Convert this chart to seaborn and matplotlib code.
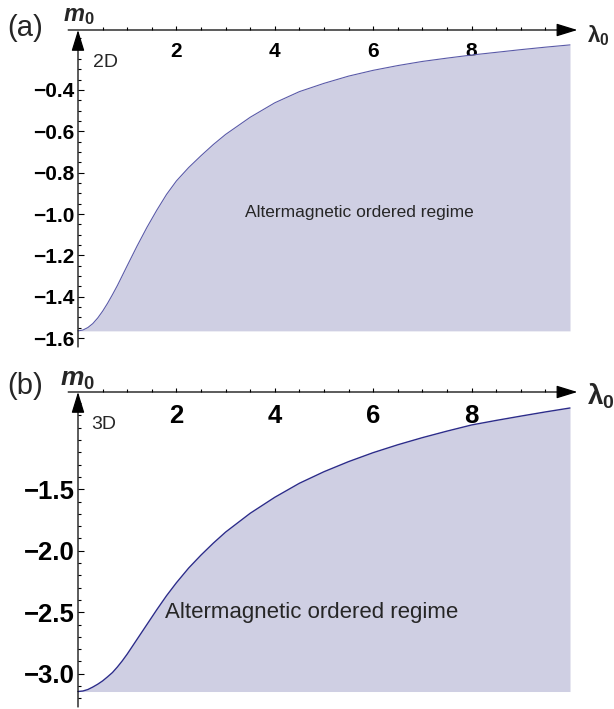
import numpy as np
import pandas as pd
import matplotlib
matplotlib.use("Agg")
import matplotlib.pyplot as plt
import seaborn as sns
from matplotlib.ticker import FixedLocator, FuncFormatter

# ---------------- data ----------------
lam_2d = [0, 0.1, 0.2, 0.3, 0.4, 0.5, 0.6, 0.7, 0.8, 0.9, 1.0, 1.2, 1.4, 1.6, 1.8, 2.0,
          2.25, 2.5, 2.75, 3.0, 3.5, 4.0, 4.5, 5.0, 5.5, 6.0, 6.5, 7.0, 7.5, 8.0, 8.5, 9.0, 9.5, 10.0]
m_2d = [-1.565, -1.561, -1.549, -1.530, -1.503, -1.470, -1.432, -1.390, -1.346, -1.298, -1.250,
        -1.155, -1.065, -0.982, -0.905, -0.840, -0.775, -0.718, -0.664, -0.615, -0.532, -0.462,
        -0.408, -0.368, -0.333, -0.305, -0.282, -0.262, -0.246, -0.231, -0.218, -0.205, -0.193, -0.182]

lam_3d = [0, 0.1, 0.2, 0.3, 0.4, 0.5, 0.6, 0.7, 0.8, 0.9, 1.0, 1.2, 1.4, 1.6, 1.8, 2.0,
          2.25, 2.5, 2.75, 3.0, 3.5, 4.0, 4.5, 5.0, 5.5, 6.0, 6.5, 7.0, 7.5, 8.0, 8.5, 9.0, 9.5, 10.0]
m_3d = [-3.144, -3.140, -3.128, -3.108, -3.085, -3.058, -3.025, -2.990, -2.945, -2.895, -2.840,
        -2.720, -2.600, -2.480, -2.365, -2.260, -2.140, -2.035, -1.938, -1.848, -1.695, -1.565,
        -1.451, -1.357, -1.275, -1.202, -1.138, -1.080, -1.027, -0.977, -0.940, -0.905, -0.871, -0.839]

base_2d = -1.565
base_3d = -3.144

xmajor = [2, 4, 6, 8]
xminor = [0.5, 1, 1.5, 2.5, 3, 3.5, 4.5, 5, 5.5, 6.5, 7, 7.5, 8.5, 9, 9.5]
ymajor_2d = [-1.6, -1.4, -1.2, -1.0, -0.8, -0.6, -0.4]
ymajor_3d = [-3.0, -2.5, -2.0, -1.5]

panel_labels = ["(a)", "(b)"]
dim_labels = ["2D", "3D"]
region_text = "Altermagnetic ordered regime"

# ---------------- style ----------------
sns.set_style("white")
plt.rcParams["font.family"] = ["Liberation Sans", "DejaVu Sans"]
plt.rcParams["mathtext.fontset"] = "custom"
plt.rcParams["mathtext.rm"] = "Liberation Sans"
plt.rcParams["mathtext.bf"] = "Liberation Sans:bold"
plt.rcParams["mathtext.it"] = "Liberation Sans:italic"
plt.rcParams["mathtext.bfit"] = "Liberation Sans:bold:italic"

W, H = 614, 709
fig = plt.figure(figsize=(W / 100, H / 100), dpi=100)

def fx(px):
    return px / W

def fy(py):
    return 1 - py / H

fill_color = "#cfcfe3"
tick_family = ["Liberation Sans", "DejaVu Sans"]

# axes geometry: x data 0 at px 78, 49.2 px per unit
x0_px, xs = 78.0, 49.2
xlim = (-0.2, 10.2)
left = fx(x0_px + xlim[0] * xs)
width = (xlim[1] - xlim[0]) * xs / W

panels = [
    dict(lam=lam_2d, m=m_2d, base=base_2d, top=30, bot=347, ylim=(-1.643, -0.110),
         ymaj=ymajor_2d, ymin=np.round(np.arange(-1.6, -0.149, 0.05), 3), fmt="{:.1f}",
         tick_fs=15, pad_x=-25.2, line="#5a5aa8", lw=0.8,
         dim_pos=(0.30, -0.267), dim_fs=14, reg_pos=(3.39, -0.993), reg_fs=12.5,
         lab_xy=(25, 28), lab_fs=21, m_xy=(79, 16), m_fs=17, l_xy=(587, 36), l_fs=16),
    dict(lam=lam_3d, m=m_3d, base=base_3d, top=392, bot=707, ylim=(-3.27, -0.709),
         ymaj=ymajor_3d, ymin=np.round(np.arange(-3.2, -0.79, 0.1), 3), fmt="{:.1f}",
         tick_fs=18.5, pad_x=-29.1, line="#2c2c8a", lw=1.0,
         dim_pos=(0.26, -0.977), dim_fs=14, reg_pos=(1.77, -2.504), reg_fs=16,
         lab_xy=(25, 386), lab_fs=21, m_xy=(78, 380), m_fs=19, l_xy=(587, 396), l_fs=20),
]

for i, p in enumerate(panels):
    bottom = fy(p["bot"])
    height = (p["bot"] - p["top"]) / H
    ax = fig.add_axes([left, bottom, width, height])
    ax.set_xlim(*xlim)
    ax.set_ylim(*p["ylim"])
    ax.patch.set_alpha(0)

    df = pd.DataFrame({"lam": p["lam"], "m": p["m"]})
    ax.fill_between(df["lam"], df["m"], p["base"], color=fill_color, lw=0, zorder=1)
    sns.lineplot(data=df, x="lam", y="m", ax=ax, color=p["line"], lw=p["lw"], zorder=2)
    ax.set_xlabel("")
    ax.set_ylabel("")

    for s in ["top", "bottom", "right", "left"]:
        ax.spines[s].set_visible(False)

    # x axis (at top)
    ax.xaxis.set_ticks_position("top")
    ax.xaxis.set_major_locator(FixedLocator(xmajor))
    ax.xaxis.set_minor_locator(FixedLocator(xminor))
    ax.xaxis.set_major_formatter(FuncFormatter(lambda v, _: f"{v:g}"))
    ax.tick_params(axis="x", which="both", direction="out", top=True, bottom=False,
                   labeltop=True, labelbottom=False, pad=p["pad_x"], width=0.8,
                   labelsize=p["tick_fs"], colors="black")
    ax.tick_params(axis="x", which="major", length=3)
    ax.tick_params(axis="x", which="minor", length=2)
    for t in ax.get_xticklabels():
        t.set_fontweight("bold")
        t.set_family(tick_family)

    # y axis (at lambda = 0)
    ax.spines["left"].set_position(("data", 0))
    ax.yaxis.set_major_locator(FixedLocator(p["ymaj"]))
    ax.yaxis.set_minor_locator(FixedLocator([v for v in p["ymin"] if not np.any(np.isclose(v, p["ymaj"]))]))
    fmt = p["fmt"]
    ax.yaxis.set_major_formatter(FuncFormatter(lambda v, _, fmt=fmt: fmt.format(v).replace("-", "\u2212")))
    ax.tick_params(axis="y", which="both", direction="in", left=True, right=False,
                   pad=2.5, width=0.8, labelsize=p["tick_fs"], colors="black")
    ax.tick_params(axis="y", which="major", length=4)
    ax.tick_params(axis="y", which="minor", length=2.2)
    for t in ax.get_yticklabels():
        t.set_fontweight("bold")
        t.set_family(tick_family)

    # axis lines with arrows
    ytop, ybot = p["ylim"][1], p["ylim"][0]
    arrow = dict(arrowstyle="-|>,head_length=0.65,head_width=0.2", color="black",
                 lw=0.9, mutation_scale=20, shrinkA=0, shrinkB=0)
    ax.annotate("", xy=(10.15, ytop), xytext=(-0.2, ytop), arrowprops=arrow,
                annotation_clip=False)
    ax.annotate("", xy=(0, ytop), xytext=(0, ybot), arrowprops=arrow,
                annotation_clip=False)

    # texts
    ax.text(p["dim_pos"][0], p["dim_pos"][1], dim_labels[i], fontsize=p["dim_fs"],
            ha="left", va="center")
    ax.text(p["reg_pos"][0], p["reg_pos"][1], region_text, fontsize=p["reg_fs"],
            ha="left", va="center")
    fig.text(fx(p["lab_xy"][0]), fy(p["lab_xy"][1]), panel_labels[i],
             fontsize=p["lab_fs"], ha="center", va="center")
    fig.text(fx(p["m_xy"][0]), fy(p["m_xy"][1]), r"$\mathbfit{m}_{\mathbf{0}}$",
             fontsize=p["m_fs"], ha="center", va="center")
    fig.text(fx(p["l_xy"][0]), fy(p["l_xy"][1]), r"$\mathbf{\lambda}_{\mathbf{0}}$",
             fontsize=p["l_fs"], ha="left", va="center")

fig.savefig("out.png", dpi=100)
